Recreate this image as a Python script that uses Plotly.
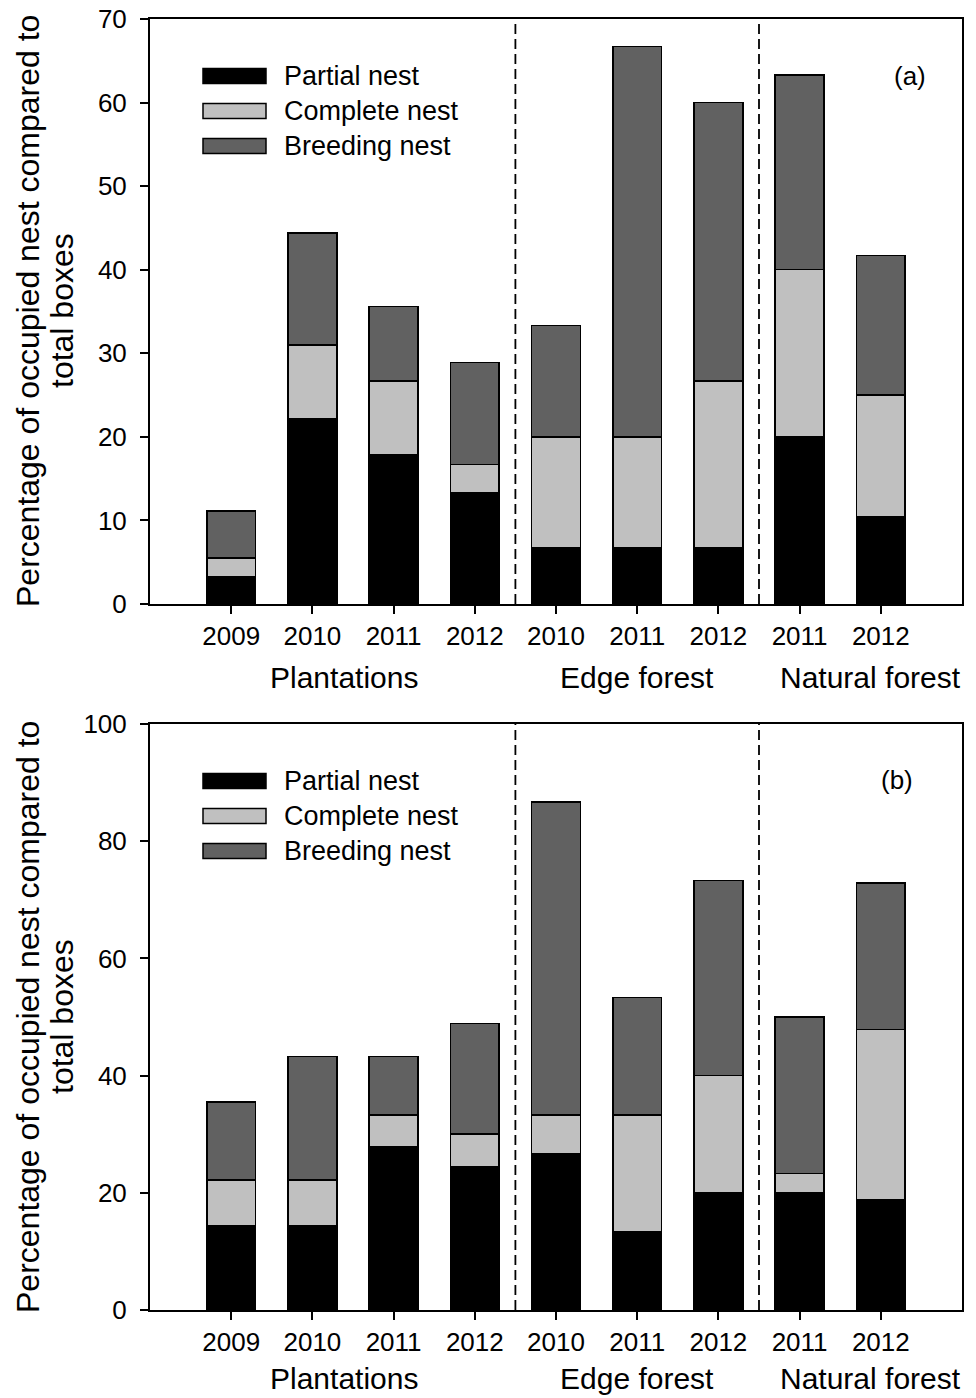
import plotly.graph_objects as go

# ---------------- data ----------------
years = ["2009", "2010", "2011", "2012", "2010", "2011", "2012", "2011", "2012"]
groups = ["Plantations", "Edge forest", "Natural forest"]
group_sizes = [4, 3, 2]
series_names = ["Partial nest", "Complete nest", "Breeding nest"]

# panel (a): cumulative tops
a_partial = [3.3, 22.2, 17.8, 13.3, 6.7, 6.7, 6.7, 20.0, 10.4]
a_complete_top = [5.5, 31.0, 26.7, 16.7, 20.0, 20.0, 26.7, 40.0, 25.0]
a_total = [11.1, 44.4, 35.6, 28.9, 33.3, 66.7, 60.0, 63.3, 41.7]

# panel (b)
b_partial = [14.4, 14.4, 27.8, 24.4, 26.7, 13.3, 20.0, 20.0, 18.8]
b_complete_top = [22.2, 22.2, 33.3, 30.0, 33.3, 33.3, 40.0, 23.3, 47.9]
b_total = [35.5, 43.3, 43.3, 48.9, 86.7, 53.3, 73.3, 50.0, 72.9]

y_ticks_a = [0, 10, 20, 30, 40, 50, 60, 70]
y_ticks_b = [0, 20, 40, 60, 80, 100]

colors = ["#000000", "#c0c0c0", "#616161"]
FONT = "Arial, Liberation Sans, Helvetica, sans-serif"
W, H = 976, 1398

def px_x(p):
    return p / W

def px_y(p):
    return 1 - p / H

xs = list(range(len(years)))

fig = go.Figure()

def add_panel(partial, comp_top, total, xa, ya):
    complete = [c - p for c, p in zip(comp_top, partial)]
    breeding = [t - c for t, c in zip(total, comp_top)]
    for name, vals, col in zip(series_names, [partial, complete, breeding], colors):
        fig.add_trace(go.Bar(
            x=xs, y=vals, name=name, marker=dict(color=col, line=dict(color="black", width=1.5)),
            width=0.6, xaxis=xa, yaxis=ya, showlegend=False,
        ))

add_panel(a_partial, a_complete_top, a_total, "x", "y")
add_panel(b_partial, b_complete_top, b_total, "x2", "y2")

xdom = [px_x(150), px_x(962)]
dom_a = [px_y(604), px_y(19)]
dom_b = [px_y(1310), px_y(724)]

axis_common = dict(showline=True, linecolor="black", linewidth=2, mirror=True,
                   ticks="outside", ticklen=8, tickwidth=1.5, tickcolor="black",
                   showgrid=False, zeroline=False, automargin=False,
                   tickfont=dict(family=FONT, size=26, color="black"))

fig.update_layout(
    template="none",
    width=W, height=H, margin=dict(l=0, r=0, t=0, b=0, pad=0),
    paper_bgcolor="white", plot_bgcolor="white",
    barmode="stack", bargap=0.4,
    xaxis=dict(domain=xdom, anchor="y", range=[-1, 9], tickvals=xs, ticktext=years,
               ticklabelstandoff=0, **axis_common),
    yaxis=dict(domain=dom_a, anchor="x", range=[0, 70], tickvals=y_ticks_a,
               ticklabelstandoff=8, **axis_common),
    xaxis2=dict(domain=xdom, anchor="y2", range=[-1, 9], tickvals=xs, ticktext=years,
                ticklabelstandoff=0, **axis_common),
    yaxis2=dict(domain=dom_b, anchor="x2", range=[0, 100], tickvals=y_ticks_b,
                ticklabelstandoff=8, **axis_common),
)

# group separators (dashed)
bounds = []
acc = 0
for s in group_sizes[:-1]:
    acc += s
    bounds.append(acc - 0.5)
for xr, yr in [("x", "y domain"), ("x2", "y2 domain")]:
    for b in bounds:
        fig.add_shape(type="line", xref=xr, yref=yr, x0=b, x1=b, y0=0, y1=1,
                      line=dict(color="black", width=1.8, dash="10px,5px"))

# group labels
group_x = [1.39, 5.0, 7.87]
for gx, g in zip(group_x, groups):
    fig.add_annotation(x=gx, xref="x", y=px_y(677), yref="paper", text=g,
                       showarrow=False, xanchor="center", yanchor="middle",
                       font=dict(family=FONT, size=30, color="black"))
    fig.add_annotation(x=gx, xref="x2", y=px_y(1397), yref="paper", text=g,
                       showarrow=False, xanchor="center", yanchor="bottom",
                       font=dict(family=FONT, size=30, color="black"))

# y titles (two lines)
for cy in [311, 1017]:
    fig.add_annotation(x=px_x(28), y=px_y(cy), xref="paper", yref="paper",
                       text="Percentage of occupied nest compared to", textangle=-90,
                       showarrow=False, xanchor="center", yanchor="middle",
                       font=dict(family=FONT, size=32, color="black"))
    fig.add_annotation(x=px_x(62), y=px_y(cy), xref="paper", yref="paper",
                       text="total boxes", textangle=-90,
                       showarrow=False, xanchor="center", yanchor="middle",
                       font=dict(family=FONT, size=32, color="black"))

# custom legends
for rows in [[76, 111, 146], [781, 816, 851]]:
    for cy, name, col in zip(rows, series_names, colors):
        fig.add_shape(type="rect", xref="paper", yref="paper",
                      x0=px_x(203), x1=px_x(266), y0=px_y(cy - 7.5), y1=px_y(cy + 7.5),
                      fillcolor=col, line=dict(color="black", width=1.5))
        fig.add_annotation(x=px_x(282), y=px_y(cy), xref="paper", yref="paper", text=name,
                           showarrow=False, xanchor="left", yanchor="middle",
                           font=dict(family=FONT, size=27, color="black"))

# panel labels
fig.add_annotation(x=px_x(910), y=px_y(76), xref="paper", yref="paper", text="(a)",
                   showarrow=False, xanchor="center", yanchor="middle",
                   font=dict(family=FONT, size=26, color="black"))
fig.add_annotation(x=px_x(897), y=px_y(780), xref="paper", yref="paper", text="(b)",
                   showarrow=False, xanchor="center", yanchor="middle",
                   font=dict(family=FONT, size=26, color="black"))

fig.write_html("out.html")
